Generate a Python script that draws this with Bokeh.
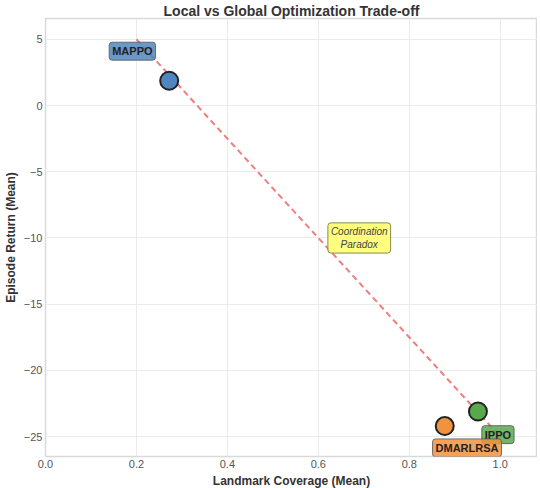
from bokeh.plotting import figure
from bokeh.models import Label, Range1d, FixedTicker
from bokeh.embed import file_html
from bokeh.resources import INLINE

methods = ["MAPPO", "IPPO", "DMARLRSA"]
coverage = [0.272, 0.951, 0.878]
returns = [1.87, -23.1, -24.2]
colors = ["#4f86c0", "#5aa84e", "#f0923e"]
label_x = [0.191, 0.995, 0.927]
label_y = [4.1, -24.85, -25.85]

trend_x = [0.2, 1.0]
trend_y = [5.0, -25.0]

note_text = "Coordination\nParadox"
note_x, note_y = 0.69, -10.0

x_ticks = [0.0, 0.2, 0.4, 0.6, 0.8, 1.0]
x_tick_labels = ["0.0", "0.2", "0.4", "0.6", "0.8", "1.0"]
y_ticks = [5, 0, -5, -10, -15, -20, -25]
y_tick_labels = ["5", "0", "\u22125", "\u221210", "\u221215", "\u221220", "\u221225"]

FONT = "Liberation Sans"

p = figure(frame_width=492, frame_height=438, output_backend="svg", toolbar_location=None,
           x_range=Range1d(0.0, 1.082), y_range=Range1d(-26.5, 6.57),
           min_border_left=0, min_border_right=0, min_border_top=0, min_border_bottom=0)

p.title.text = "Local vs Global Optimization Trade-off"
p.title.align = "center"
p.title.text_font = FONT
p.title.text_font_size = "14px"
p.title.text_color = "#333333"
p.title.standoff = 0
p.title.offset = 0
p.title.text_line_height = 0.9

p.xaxis.axis_label = "Landmark Coverage (Mean)"
p.yaxis.axis_label = "Episode Return (Mean)"
for ax in (p.xaxis, p.yaxis):
    ax.axis_label_text_font = FONT
    ax.axis_label_text_font_style = "bold"
    ax.axis_label_text_font_size = "12px"
    ax.axis_label_text_color = "#333333"
    ax.major_label_text_font = FONT
    ax.major_label_text_font_size = "11px"
    ax.major_label_text_color = "#555555"
    ax.axis_line_color = None
    ax.major_tick_line_color = None
    ax.minor_tick_line_color = None
    ax.major_tick_out = 0
    ax.major_tick_in = 0
    ax.major_label_standoff = 3
    ax.axis_label_standoff = 3

p.xaxis.ticker = FixedTicker(ticks=x_ticks)
p.xaxis.major_label_overrides = {t: s for t, s in zip(x_ticks, x_tick_labels)}
p.yaxis.ticker = FixedTicker(ticks=y_ticks)
p.yaxis.major_label_overrides = {t: s for t, s in zip(y_ticks, y_tick_labels)}

p.outline_line_color = "#d9d9d9"
p.outline_line_width = 1.5
p.grid.grid_line_color = "#ebebeb"
p.grid.grid_line_width = 1

p.line(trend_x, trend_y, line_color="#ee6666", line_width=2, line_dash="6 4", line_alpha=0.85)

p.scatter(coverage, returns, size=18, fill_color=colors, line_color="#222222", line_width=2)

for name, lx, ly, c in zip(methods, label_x, label_y, colors):
    p.add_layout(Label(x=lx, y=ly, text=name, text_align="center", text_baseline="middle",
                       text_font=FONT, text_font_style="bold", text_font_size="11px",
                       text_color="#222222",
                       background_fill_color=c, background_fill_alpha=0.85,
                       border_line_color="#555555", border_line_alpha=0.8, border_line_width=1,
                       padding=3, border_radius=3))

p.add_layout(Label(x=note_x, y=note_y, text=note_text, text_align="center", text_baseline="middle",
                   text_font=FONT, text_font_style="italic", text_font_size="10px",
                   text_color="#444444",
                   background_fill_color="#ffff66", background_fill_alpha=0.85,
                   border_line_color="#888855", border_line_width=1,
                   padding=3, border_radius=3))

open("out.html", "w").write(file_html(p, INLINE))
